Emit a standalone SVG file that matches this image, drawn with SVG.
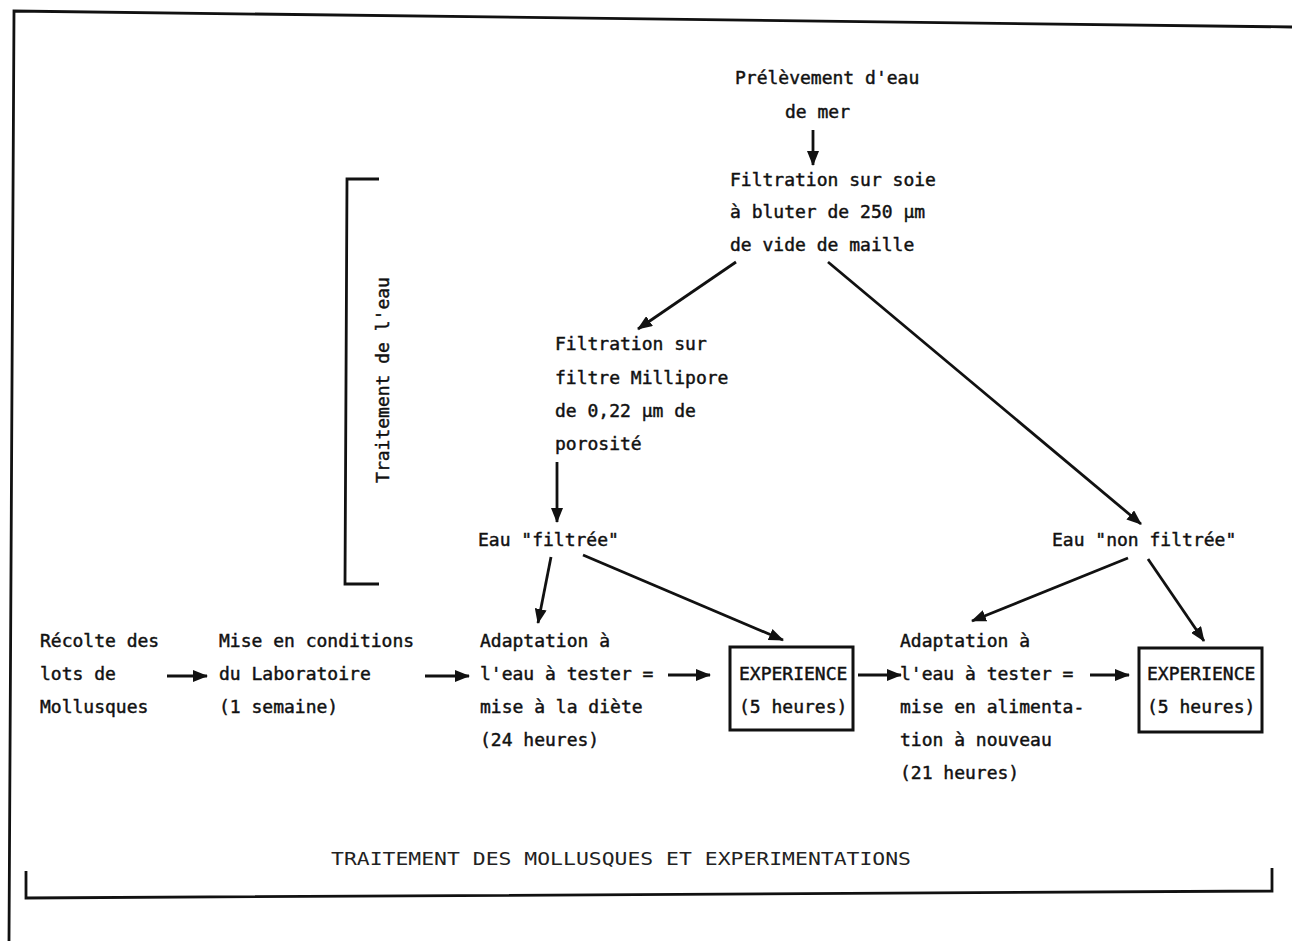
<svg xmlns="http://www.w3.org/2000/svg" width="1292" height="941" viewBox="0 0 1292 941">
<style>
.t{font-family:"DejaVu Sans Mono","Liberation Mono",monospace;font-size:18px;fill:#111;stroke:#111;stroke-width:0.45;}
.b{font-family:"DejaVu Sans Mono","Liberation Mono",monospace;font-size:17px;fill:#222;}
.ln{stroke:#111;stroke-width:2.8;fill:none;}
.frame{stroke:#111;stroke-width:2.8;fill:none;}
.box{stroke:#111;stroke-width:3;fill:none;}
</style>
<defs>
<marker id="ah" viewBox="0 0 15 12" refX="14" refY="6" markerWidth="15" markerHeight="12" markerUnits="userSpaceOnUse" orient="auto">
<path d="M0,0 L15,6 L0,12 Z" fill="#111"/>
</marker>
</defs>
<rect width="1292" height="941" fill="#fff"/>
<g id="frame">
<polyline class="frame" points="9,941 14,11 1292,27"/>
<polyline class="frame" points="26,871 26,898 1272,891 1272,868"/>
<polyline class="frame" points="379,179 347,179 345,584 379,584"/>
</g>
<g id="labels">
<text class="t" transform="translate(389,380) rotate(-90)" text-anchor="middle">Traitement de l'eau</text>
<text class="b" x="331" y="865" textLength="580" lengthAdjust="spacingAndGlyphs">TRAITEMENT DES MOLLUSQUES ET EXPERIMENTATIONS</text>
</g>
<g id="prelevement"><text class="t" x="735" y="84">Prélèvement d'eau</text><text class="t" x="785" y="118">de mer</text></g>
<g id="filtration-soie"><text class="t" x="730" y="186">Filtration sur soie</text><text class="t" x="730" y="218">à bluter de 250 µm</text><text class="t" x="730" y="251">de vide de maille</text></g>
<g id="filtration-millipore"><text class="t" x="555" y="350">Filtration sur</text><text class="t" x="555" y="384">filtre Millipore</text><text class="t" x="555" y="417">de 0,22 µm de</text><text class="t" x="555" y="450">porosité</text></g>
<g id="eau-filtree"><text class="t" x="478" y="546">Eau "filtrée"</text></g>
<g id="eau-non-filtree"><text class="t" x="1052" y="546">Eau "non filtrée"</text></g>
<g id="recolte"><text class="t" x="40" y="647">Récolte des</text><text class="t" x="40" y="680">lots de</text><text class="t" x="40" y="713">Mollusques</text></g>
<g id="mise-conditions"><text class="t" x="219" y="647">Mise en conditions</text><text class="t" x="219" y="680">du Laboratoire</text><text class="t" x="219" y="713">(1 semaine)</text></g>
<g id="adaptation-1"><text class="t" x="480" y="647">Adaptation à</text><text class="t" x="480" y="680">l'eau à tester =</text><text class="t" x="480" y="713">mise à la diète</text><text class="t" x="480" y="746">(24 heures)</text></g>
<g id="experience-1"><rect class="box" x="730" y="647" width="123" height="83"/><text class="t" x="739" y="680">EXPERIENCE</text><text class="t" x="739" y="713">(5 heures)</text></g>
<g id="adaptation-2"><text class="t" x="900" y="647">Adaptation à</text><text class="t" x="900" y="680">l'eau à tester =</text><text class="t" x="900" y="713">mise en alimenta-</text><text class="t" x="900" y="746">tion à nouveau</text><text class="t" x="900" y="779">(21 heures)</text></g>
<g id="experience-2"><rect class="box" x="1139" y="648" width="123" height="84"/><text class="t" x="1147" y="680">EXPERIENCE</text><text class="t" x="1147" y="713">(5 heures)</text></g>
<g id="connectors">
<line class="ln" x1="813" y1="130" x2="813" y2="165" marker-end="url(#ah)"/>
<line class="ln" x1="736" y1="262" x2="638" y2="329" marker-end="url(#ah)"/>
<line class="ln" x1="828" y1="262" x2="1141" y2="524" marker-end="url(#ah)"/>
<line class="ln" x1="557" y1="462" x2="557" y2="522" marker-end="url(#ah)"/>
<line class="ln" x1="551" y1="557" x2="538" y2="623" marker-end="url(#ah)"/>
<line class="ln" x1="583" y1="555" x2="783" y2="640" marker-end="url(#ah)"/>
<line class="ln" x1="1128" y1="558" x2="972" y2="621" marker-end="url(#ah)"/>
<line class="ln" x1="1148" y1="559" x2="1204" y2="641" marker-end="url(#ah)"/>
<line class="ln" x1="167" y1="676" x2="207" y2="676" marker-end="url(#ah)"/>
<line class="ln" x1="425" y1="676" x2="469" y2="676" marker-end="url(#ah)"/>
<line class="ln" x1="668" y1="675" x2="710" y2="675" marker-end="url(#ah)"/>
<line class="ln" x1="858" y1="675" x2="901" y2="675" marker-end="url(#ah)"/>
<line class="ln" x1="1090" y1="675" x2="1129" y2="675" marker-end="url(#ah)"/>
</g>
</svg>
